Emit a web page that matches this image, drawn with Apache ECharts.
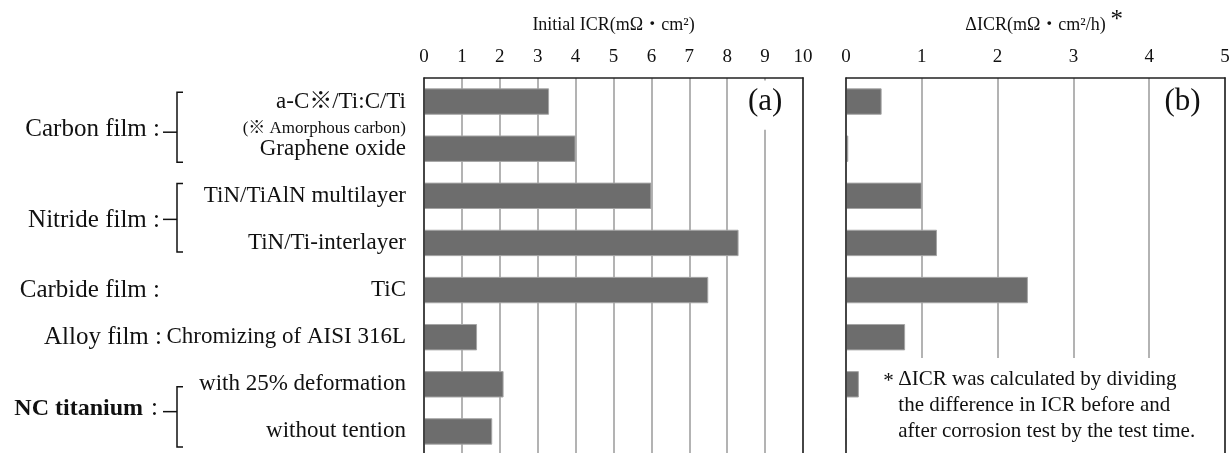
<!DOCTYPE html>
<html>
<head>
<meta charset="utf-8">
<script src="https://cdn.jsdelivr.net/npm/echarts@6/dist/echarts.min.js"></script>
<style>
html,body{margin:0;padding:0;background:#fff;}
#chart{width:1231px;height:453px;}
</style>
</head>
<body>
<div id="chart"></div>
<script>
// ---- data ----
const categories = ['a-C※/Ti:C/Ti', 'Graphene oxide', 'TiN/TiAlN multilayer', 'TiN/Ti-interlayer', 'TiC', 'Chromizing of AISI 316L', 'with 25% deformation', 'without tention'];
const initialICR = [3.3, 4.0, 6.0, 8.3, 7.5, 1.4, 2.1, 1.8];
const deltaICR = [0.47, 0.03, 1.0, 1.2, 2.4, 0.78, 0.17, 0];
const initialTicks = { min: 0, max: 10, interval: 1 };
const deltaTicks = { min: 0, max: 5, interval: 1 };
const groupLabels = ['Carbon film :', 'Nitride film :', 'Carbide film :', 'Alloy film :', 'NC titanium'];
const subLabel = '(※ Amorphous carbon)';
const titleA = 'Initial ICR(mΩ・cm²)';
const titleB = 'ΔICR(mΩ・cm²/h)';
const footnote = ['ΔICR was calculated by dividing', 'the difference in ICR before and', 'after corrosion test by the test time.'];

const FONT = "'Liberation Serif','Times New Roman','Noto Sans CJK JP',serif";
const TXT = '#111';
const chart = echarts.init(document.getElementById('chart'), null, { renderer: 'canvas' });

function xAxisCfg(idx, ticks, name) {
  return {
    type: 'value', gridIndex: idx, position: 'top',
    min: ticks.min, max: ticks.max, interval: ticks.interval,
    name: name, nameLocation: 'middle', nameGap: 44,
    nameTextStyle: { fontFamily: FONT, fontSize: 18, color: TXT },
    axisLine: { show: true, lineStyle: { color: '#222', width: 1.5 } },
    axisTick: { show: false },
    axisLabel: { margin: 11, fontFamily: FONT, fontSize: 19, color: TXT },
    splitLine: { show: true, lineStyle: { color: '#9a9a9a', width: 1.5 } }
  };
}
function yAxisCfg(idx, showLabels) {
  return {
    type: 'category', gridIndex: idx, data: categories, inverse: true, z: 3,
    axisLine: { show: true, lineStyle: { color: '#222', width: 1.5 } },
    axisTick: { show: false },
    axisLabel: { show: showLabels, margin: 18, fontFamily: FONT, fontSize: 23, color: TXT },
    splitLine: { show: false }
  };
}
const barStyle = { color: '#6d6d6d', borderColor: '#a5a5a5', borderWidth: 1 };

const option = {
  animation: false,
  backgroundColor: '#fff',
  grid: [
    { left: 424, width: 379, top: 78, height: 377, outerBoundsMode: 'none', containLabel: false, show: false },
    { left: 846, width: 379, top: 78, height: 377, outerBoundsMode: 'none', containLabel: false, show: false }
  ],
  xAxis: [xAxisCfg(0, initialTicks, titleA), xAxisCfg(1, deltaTicks, titleB)],
  yAxis: [yAxisCfg(0, true), yAxisCfg(1, false)],
  series: [
    { type: 'bar', xAxisIndex: 0, yAxisIndex: 0, data: initialICR, barWidth: '56%', itemStyle: barStyle },
    { type: 'bar', xAxisIndex: 1, yAxisIndex: 1, data: deltaICR, barWidth: '56%', itemStyle: barStyle }
  ]
};
chart.setOption(option);

// ---- annotations positioned through the axes ----
const y0 = chart.convertToPixel({ yAxisIndex: 0 }, 0);
const y1 = chart.convertToPixel({ yAxisIndex: 0 }, 1);
const step = y1 - y0;
const yAt = f => y0 + f * step;
const xA = v => chart.convertToPixel({ xAxisIndex: 0 }, v);
const xB = v => chart.convertToPixel({ xAxisIndex: 1 }, v);
const gridTop = 78;

const g = [];
function text(t, x, y, opts) {
  g.push({ type: 'text', z: 100, style: Object.assign({ text: t, x: x, y: y, fill: TXT, fontFamily: FONT, fontSize: 22, align: 'left', verticalAlign: 'middle' }, opts || {}) });
}
function bracket(top, bottom, mid) {
  g.push({ type: 'polyline', z: 100, shape: { points: [[183, top], [177, top], [177, bottom], [183, bottom]] }, style: { stroke: '#111', lineWidth: 1.5, fill: null } });
  g.push({ type: 'line', z: 100, shape: { x1: 163, y1: mid, x2: 177, y2: mid }, style: { stroke: '#111', lineWidth: 1.5 } });
}
// right frame lines
[xA(initialTicks.max), xB(deltaTicks.max)].forEach(x => {
  g.push({ type: 'line', z: 50, shape: { x1: x, y1: gridTop - 0.75, x2: x, y2: 460 }, style: { stroke: '#222', lineWidth: 1.5 } });
});
const GX = 160;
// group labels
text(groupLabels[0], GX, yAt(0.59), { align: 'right', fontSize: 25 });
bracket(yAt(-0.2), yAt(1.29), yAt(0.65));
text(groupLabels[1], GX, yAt(2.52), { align: 'right', fontSize: 25 });
bracket(yAt(1.74), yAt(3.19), yAt(2.5));
text(groupLabels[2], GX, yAt(4.0), { align: 'right', fontSize: 25 });
text(groupLabels[3], GX + 2, yAt(5.0), { align: 'right', fontSize: 25 });
text(groupLabels[4], 143, yAt(6.52), { align: 'right', fontSize: 24, fontWeight: 'bold' });
text(':', 151, yAt(6.52), { align: 'left', fontSize: 25 });
bracket(yAt(6.05), yAt(7.33), yAt(6.58));
// sub label
text(subLabel, 406, yAt(0.57), { align: 'right', fontSize: 17 });
// panel labels
g.push({ type: 'rect', z: 99, shape: { x: xA(8.45), y: gridTop + 2.5, width: xA(9.6) - xA(8.45), height: yAt(0.6) - gridTop - 2.5 }, style: { fill: '#fff' } });
text('(a)', xA(9.0), yAt(0), { align: 'center', fontSize: 31 });
text('(b)', xB(4.44), yAt(0), { align: 'center', fontSize: 31 });
// title asterisk
text('*', xB(2.5) + 75, 20, { align: 'left', fontSize: 25 });
// footnote
g.push({ type: 'rect', z: 99, shape: { x: xB(0.27), y: yAt(5.44), width: xB(4.95) - xB(0.27), height: 100 }, style: { fill: '#fff' } });
text('*', xB(0.49), yAt(5.88) + 3, { align: 'left', fontSize: 21 });
text(footnote.join('\n'), xB(0.69), yAt(6.44), { align: 'left', fontSize: 21, lineHeight: 26 });

chart.setOption({ graphic: { elements: g } });
</script>
</body>
</html>
